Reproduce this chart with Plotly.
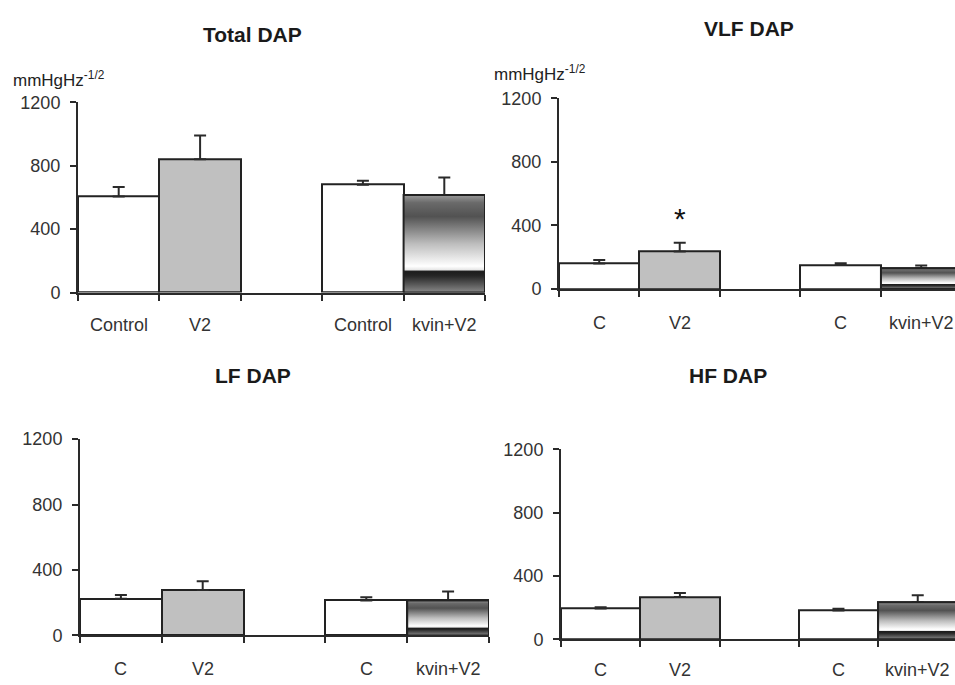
import plotly.graph_objects as go

# ---- data ----
labels_total = ["Control", "V2", "Control", "kvin+V2"]
labels_short = ["C", "V2", "C", "kvin+V2"]
slot_pos = [0, 1, 3, 4]
slot_edges = [-0.5, 0.5, 1.5, 2.5, 3.5, 4.5]

total_mean = [605, 840, 680, 615]
total_err = [60, 150, 25, 110]
vlf_mean = [160, 236, 150, 130]
vlf_err = [22, 55, 12, 18]
lf_mean = [224, 278, 214, 214]
lf_err = [24, 53, 20, 54]
hf_mean = [195, 267, 183, 234]
hf_err = [8, 25, 10, 45]

titles = ["Total DAP", "VLF DAP", "LF DAP", "HF DAP"]
y_ticks = [0, 400, 800, 1200]
sig_marker_y = 445  # asterisk over VLF V2

panels = [
    dict(title=titles[0], mean=total_mean, err=total_err, labels=labels_total,
         xdom=[78/955, 485/955], ydom=[1-291/685, 1-95/685], xr=[-0.5, 4.5],
         tpos=(252, 25), unit=(11, 71), lab_shift=-32),
    dict(title=titles[1], mean=vlf_mean, err=vlf_err, labels=labels_short,
         xdom=[559/955, 1.0], ydom=[1-287.3/685, 1-91/685], xr=[-0.5, 4.42],
         tpos=(749, 19), unit=(492, 65), lab_shift=-34),
    dict(title=titles[2], mean=lf_mean, err=lf_err, labels=labels_short,
         xdom=[80/955, 489/955], ydom=[1-644.3/685, 1-442/685], xr=[-0.5, 4.5],
         tpos=(253, 377), unit=None, lab_shift=-34),
    dict(title=titles[3], mean=hf_mean, err=hf_err, labels=labels_short,
         xdom=[561/955, 1.0], ydom=[1-648.3/685, 1-452.5/685], xr=[-0.5, 4.47],
         tpos=(728, 377), unit=None, lab_shift=-31),
]

bar_colors = ["#ffffff", "#c0c0c0", "#ffffff", "rgba(0,0,0,0)"]
grad_scale = [
    [0.0, "#8a8a8a"], [0.08, "#5a5a5a"], [0.17, "#262626"], [0.215, "#1c1c1c"],
    [0.235, "#e8e8e8"], [0.27, "#ffffff"], [0.5, "#bdbdbd"], [0.78, "#525252"],
    [0.92, "#6a6a6a"], [1.0, "#9a9a9a"],
]
AX = "#2a2a2a"
TXT = "#333333"
FONT = "Liberation Sans, Arial, sans-serif"

fig = go.Figure()
annotations = []
for i, p in enumerate(panels):
    n = "" if i == 0 else str(i + 1)
    xa, ya = "x" + n, "y" + n
    fig.add_trace(go.Bar(
        x=slot_pos, y=p["mean"], width=1, xaxis=xa, yaxis=ya,
        marker=dict(color=bar_colors, line=dict(color="#222222", width=2)),
        error_y=dict(type="data", array=p["err"], arrayminus=[0]*len(p["err"]),
                     symmetric=False, color=AX, thickness=2, width=6),
        hoverinfo="skip", showlegend=False,
    ))
    c = slot_pos[3]
    v = p["mean"][3]
    fig.add_trace(go.Scatter(
        x=[c - 0.5, c + 0.5, c + 0.5, c - 0.5, c - 0.5],
        y=[0, 0, v, v, 0], xaxis=xa, yaxis=ya, mode="lines", fill="toself",
        fillgradient=dict(type="vertical", colorscale=grad_scale),
        line=dict(color="#222222", width=2), hoverinfo="skip", showlegend=False,
    ))
    # x axis: tick marks at slot edges
    fig.layout["xaxis" + n] = dict(
        domain=p["xdom"], range=p["xr"], anchor=ya,
        tickmode="array", tickvals=slot_edges, showticklabels=False,
        ticks="outside", ticklen=6, tickcolor=AX, tickwidth=2,
        showline=True, linecolor=AX, linewidth=2, showgrid=False, zeroline=False,
    )
    fig.layout["yaxis" + n] = dict(
        domain=p["ydom"], range=[0, 1200], anchor=xa,
        tickmode="array", tickvals=y_ticks, ticks="outside", ticklen=6,
        tickcolor=AX, tickwidth=2, ticklabelstandoff=6,
        tickfont=dict(family=FONT, size=18, color=TXT),
        showline=True, linecolor=AX, linewidth=2, showgrid=False, zeroline=False,
    )
    # category labels centred under each bar slot
    for pos, lab in zip(slot_pos, p["labels"]):
        annotations.append(dict(
            text=lab, xref=xa, yref=ya + " domain", x=pos, y=0,
            xanchor="center", yanchor="middle", yshift=p["lab_shift"],
            showarrow=False, font=dict(family=FONT, size=18, color=TXT),
        ))
    annotations.append(dict(
        text="<b>" + p["title"] + "</b>", xref="paper", yref="paper",
        x=p["tpos"][0]/955, y=1 - p["tpos"][1]/685, xanchor="center", yanchor="middle",
        showarrow=False, font=dict(family=FONT, size=21, color="#1a1a1a"),
    ))
    if p["unit"]:
        annotations.append(dict(
            text="mmHgHz<sup>-1/2</sup>", xref="paper", yref="paper",
            x=p["unit"][0]/955, y=1 - p["unit"][1]/685, xanchor="left", yanchor="middle",
            showarrow=False, font=dict(family=FONT, size=17, color="#222222"),
        ))

annotations.append(dict(
    text="*", xref="x2", yref="y2", x=slot_pos[1], y=sig_marker_y,
    xanchor="center", yanchor="middle", showarrow=False,
    font=dict(family=FONT, size=30, color="#111111"),
))

fig.update_layout(
    width=955, height=685, margin=dict(l=0, r=0, t=0, b=0),
    paper_bgcolor="white", plot_bgcolor="white", showlegend=False,
    bargap=0, annotations=annotations,
)
fig.write_html("out.html")
